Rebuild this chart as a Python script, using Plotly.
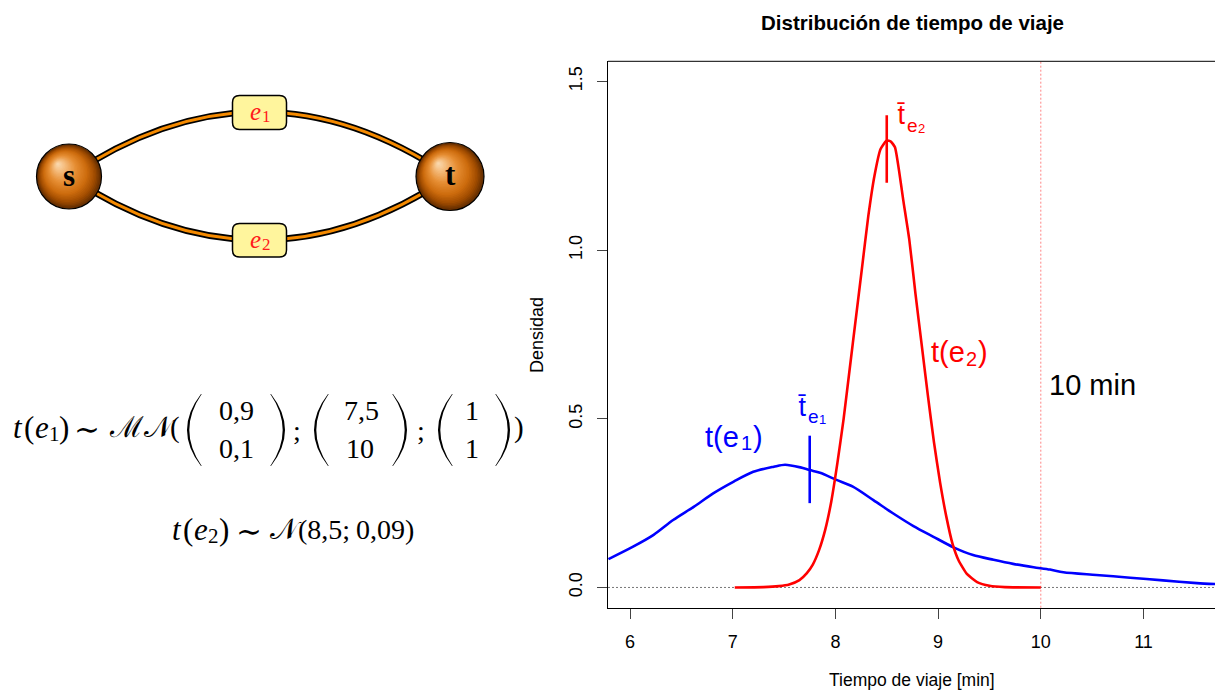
import plotly.graph_objects as go

# ---- travel-time densities (minutes vs density) ----
e1_x = [5.79, 6.03, 6.23, 6.42, 6.62, 6.81, 7.01, 7.20, 7.40, 7.51, 7.66, 7.75, 7.85,
        8.01, 8.17, 8.37, 8.56, 8.76, 8.95, 9.15, 9.34, 9.54, 9.73, 9.93, 10.09,
        10.22, 10.54, 10.87, 11.19, 11.52, 11.70]
e1_y = [0.084, 0.121, 0.156, 0.200, 0.239, 0.279, 0.314, 0.343, 0.358, 0.364, 0.356,
        0.348, 0.340, 0.319, 0.299, 0.259, 0.220, 0.182, 0.151, 0.119, 0.096, 0.082,
        0.070, 0.060, 0.053, 0.045, 0.037, 0.029, 0.021, 0.013, 0.010]

e2_x = [7.02, 7.30, 7.45, 7.55, 7.65, 7.72, 7.78, 7.84, 7.90, 7.96, 8.02, 8.08, 8.14,
        8.20, 8.26, 8.32, 8.38, 8.44, 8.50, 8.54, 8.58, 8.62, 8.66, 8.72, 8.78, 8.84,
        8.90, 8.96, 9.02, 9.08, 9.14, 9.20, 9.28, 9.38, 9.50, 9.65, 10.0]
e2_y = [0.0, 0.001, 0.004, 0.009, 0.022, 0.042, 0.068, 0.11, 0.17, 0.255, 0.37, 0.50,
        0.65, 0.80, 0.95, 1.10, 1.22, 1.30, 1.325, 1.322, 1.305, 1.235, 1.15, 1.03,
        0.87, 0.72, 0.57, 0.43, 0.31, 0.21, 0.13, 0.08, 0.04, 0.016, 0.005, 0.001, 0.0]

# mean travel time of each edge, with the extent of its marker
mean_e1 = 7.75
mean_e1_span = [0.25, 0.45]
mean_e2 = 8.5
mean_e2_span = [1.2, 1.4]
deadline = 10

x_ticks = [6, 7, 8, 9, 10, 11]
y_ticks = [0.0, 0.5, 1.0, 1.5]
y_ticklabels = ["0.0", "0.5", "1.0", "1.5"]

BLUE = "#0000ff"
RED = "#ff0000"
SANS = "Liberation Sans"
SERIF = "Liberation Serif"

fig = go.Figure()

fig.add_trace(go.Scatter(x=e1_x, y=e1_y, mode="lines",
                         line=dict(color=BLUE, width=2.6, shape="spline", smoothing=0.8),
                         hoverinfo="skip", showlegend=False))
fig.add_trace(go.Scatter(x=e2_x, y=e2_y, mode="lines",
                         line=dict(color=RED, width=2.6, shape="spline", smoothing=0.5),
                         hoverinfo="skip", showlegend=False))
fig.add_trace(go.Scatter(x=[mean_e1, mean_e1], y=mean_e1_span, mode="lines", line=dict(color=BLUE, width=2.6),
                         hoverinfo="skip", showlegend=False))
fig.add_trace(go.Scatter(x=[mean_e2, mean_e2], y=mean_e2_span, mode="lines", line=dict(color=RED, width=2.6),
                         hoverinfo="skip", showlegend=False))

# invisible trace that anchors the drawing canvas on the left
fig.add_trace(go.Scatter(x=[0], y=[0], xaxis="x2", yaxis="y2", mode="markers",
                         marker=dict(opacity=0), hoverinfo="skip", showlegend=False))

W, H = 1215, 694
left, top, bottom = 608, 61.3, 607.7

shapes = []
annotations = []

# box top edge, zero line and deadline marker
shapes.append(dict(type="line", xref="x domain", yref="y domain", x0=0, x1=1, y0=1, y1=1,
                   line=dict(color="black", width=1)))
shapes.append(dict(type="line", xref="x domain", yref="y", x0=0, x1=1, y0=0, y1=0,
                   line=dict(color="#777777", width=1, dash="2px,2px"), layer="below"))
shapes.append(dict(type="line", xref="x", yref="y domain", x0=deadline, x1=deadline, y0=0, y1=1,
                   line=dict(color="rgba(255,90,90,0.75)", width=1, dash="2px,2px"), layer="below"))

# ---- network drawing (canvas coordinates in pixels) ----
def cv(**kw):
    d = dict(xref="x2", yref="y2")
    d.update(kw)
    return d

s_c, s_r = (69, 176.5), 32.5
t_c, t_r = (450, 176.5), 34
edge_mid_top, edge_mid_bot = 112, 240
for my in (edge_mid_top, edge_mid_bot):
    cy = 2 * my - 176.5
    path = f"M{s_c[0]},{s_c[1]} Q259.5,{cy} {t_c[0]},{t_c[1]}"
    shapes.append(cv(type="path", path=path, line=dict(color="black", width=6.5)))
    shapes.append(cv(type="path", path=path, line=dict(color="#f58a00", width=3)))

stops = [(0.0, (105, 48, 0)), (0.12, (160, 76, 0)), (0.30, (205, 108, 14)),
         (0.55, (230, 142, 52)), (0.80, (245, 190, 128)), (1.0, (251, 226, 192))]

def shade(t):
    for (t0, c0), (t1, c1) in zip(stops[:-1], stops[1:]):
        if t <= t1:
            f = (t - t0) / (t1 - t0)
            return "rgb(%d,%d,%d)" % tuple(round(a + (b - a) * f) for a, b in zip(c0, c1))
    return "rgb(%d,%d,%d)" % stops[-1][1]

def sphere(c, r):
    cx, cy = c
    shapes.append(cv(type="circle", x0=cx - r, x1=cx + r, y0=cy - r, y1=cy + r,
                     fillcolor=shade(0), line=dict(color="black", width=1.2)))
    hx, hy = cx - 0.36 * r, cy - 0.40 * r
    n = 30
    for k in range(1, n):
        t = k / n
        ccx, ccy = cx + (hx - cx) * t, cy + (hy - cy) * t
        rr = r * (1 - t) - 0.8
        if rr <= 0:
            break
        shapes.append(cv(type="circle", x0=ccx - rr, x1=ccx + rr, y0=ccy - rr, y1=ccy + rr,
                         fillcolor=shade(t), line=dict(width=0)))

sphere(s_c, s_r)
sphere(t_c, t_r)

def rounded_rect(x0, y0, x1, y1, q):
    return (f"M{x0+q},{y0} L{x1-q},{y0} Q{x1},{y0} {x1},{y0+q} L{x1},{y1-q} Q{x1},{y1} {x1-q},{y1} "
            f"L{x0+q},{y1} Q{x0},{y1} {x0},{y1-q} L{x0},{y0+q} Q{x0},{y0} {x0+q},{y0} Z")

def canvas_text(x, y, text, size, family=SERIF, color="black", anchor="left"):
    annotations.append(cv(x=x, y=y, text=text, showarrow=False, xanchor=anchor, yanchor="middle",
                          font=dict(family=family, size=size, color=color)))

for (y0, y1), sub in (((95.5, 129.5), "1"), ((223.5, 257), "2")):
    shapes.append(cv(type="path", path=rounded_rect(232.5, y0, 286.5, y1, 7),
                     fillcolor="#fff59d", line=dict(color="black", width=1.5)))
    yc = (y0 + y1) / 2
    canvas_text(248, yc - 1, "<i>e</i>", 25, color="#ff1a1a")
    canvas_text(259.5, yc + 4, sub, 17, color="#ff1a1a")

canvas_text(s_c[0], s_c[1] - 1, "<b>s</b>", 31, anchor="center")
canvas_text(t_c[0], t_c[1] - 2, "<b>t</b>", 31, anchor="center")

# ---- distribution formulas ----
def paren(xl, xr, yt, yb, w, opening):
    ym = (yt + yb) / 2
    if opening:
        co = 2 * xl - xr
        ci = 2 * (xl + w) - (xr + 0.7)
        return f"M{xr},{yt} Q{co},{ym} {xr},{yb} L{xr+0.7},{yb} Q{ci},{ym} {xr+0.7},{yt} Z"
    co = 2 * xr - xl
    ci = 2 * (xr - w) - (xl - 0.7)
    return f"M{xl},{yt} Q{co},{ym} {xl},{yb} L{xl-0.7},{yb} Q{ci},{ym} {xl-0.7},{yt} Z"

for xl, xr, op in ((187, 201, True), (271, 285, False), (314, 328, True),
                   (393, 407, False), (438, 452, True), (496, 510, False)):
    shapes.append(cv(type="path", path=paren(xl, xr, 394, 466, 2.3, op),
                     fillcolor="black", line=dict(width=0)))

MF = 31
# t(e1) ~ MN( ... )
canvas_text(11, 427, "<i>t</i>", MF)
canvas_text(22, 427, "(", MF)
canvas_text(33, 427, "<i>e</i>", MF)
canvas_text(47, 434, "1", 21)
canvas_text(57, 427, ")", MF)
canvas_text(87, 429, "∼", 31, family="DejaVu Serif", anchor="center")
canvas_text(107, 427, "ℳ𝒩", 29)
canvas_text(168, 427, "(", 29)
canvas_text(236, 410.5, "0,9", 28, anchor="center")
canvas_text(236, 448.5, "0,1", 28, anchor="center")
canvas_text(361, 410.5, "7,5", 28, anchor="center")
canvas_text(360, 448.5, "10", 28, anchor="center")
canvas_text(472, 410.5, "1", 28, anchor="center")
canvas_text(472, 448.5, "1", 28, anchor="center")
canvas_text(297, 430, ";", 28, anchor="center")
canvas_text(421, 430, ";", 28, anchor="center")
canvas_text(512, 427, ")", 29)

# t(e2) ~ N(8,5; 0,09)
L2 = 529
canvas_text(170, L2, "<i>t</i>", MF)
canvas_text(181, L2, "(", MF)
canvas_text(192, L2, "<i>e</i>", MF)
canvas_text(206, L2 + 7, "2", 21)
canvas_text(217, L2, ")", MF)
canvas_text(249, L2 + 2, "∼", 31, family="DejaVu Serif", anchor="center")
canvas_text(268, L2, "𝒩", 29)
canvas_text(296, L2, "(8,5;", 28)
canvas_text(385, L2, "0,09)", 28, anchor="center")

# ---- plot texts ----
def px(x, y):
    return x / W, 1 - y / H

tx, ty = px(912, 22)
annotations.append(dict(xref="paper", yref="paper", x=tx, y=ty, xanchor="center", yanchor="middle",
                        text="<b>Distribución de tiempo de viaje</b>", showarrow=False,
                        font=dict(family=SANS, size=20.5, color="black")))
tx, ty = px(912, 680)
annotations.append(dict(xref="paper", yref="paper", x=tx, y=ty, xanchor="center", yanchor="middle",
                        text="Tiempo de viaje [min]", showarrow=False,
                        font=dict(family=SANS, size=17.5, color="black")))
tx, ty = px(537, 335)
annotations.append(dict(xref="paper", yref="paper", x=tx, y=ty, xanchor="center", yanchor="middle",
                        text="Densidad", textangle=-90, showarrow=False,
                        font=dict(family=SANS, size=18, color="black")))

def plot_text(x, y, text, size, color, dx, dy):
    # dx/dy are pixel offsets of the piece's left edge / centre from the data point (dy down)
    annotations.append(dict(xref="x", yref="y", x=x, y=y, text=text, showarrow=False,
                            xanchor="left", yanchor="middle", xshift=dx, yshift=-dy,
                            font=dict(family=SANS, size=size, color=color)))

# t(e1) label
plot_text(7.0, 0.45, "t(e", 29, BLUE, -30, 1)
plot_text(7.0, 0.45, "1", 20, BLUE, 6, 7.5)
plot_text(7.0, 0.45, ")", 29, BLUE, 18, 1)
# t(e2) label
plot_text(9.2, 0.70, "t(e", 29, RED, -30, 1)
plot_text(9.2, 0.70, "2", 20, RED, 5, 7.5)
plot_text(9.2, 0.70, ")", 29, RED, 17, 1)
# deadline label
annotations.append(dict(xref="x", yref="y", x=10.5, y=0.60, text="10 min", showarrow=False,
                        xanchor="center", yanchor="middle",
                        font=dict(family=SANS, size=29, color="black")))
# mean labels
plot_text(mean_e1, mean_e1_span[1], "t̄", 27, BLUE, -14, -29)
plot_text(mean_e1, mean_e1_span[1], "e", 19, BLUE, -4, -19)
plot_text(mean_e1, mean_e1_span[1], "1", 13, BLUE, 7, -16)
plot_text(mean_e2, mean_e2_span[1], "t̄", 27, RED, 8, 0)
plot_text(mean_e2, mean_e2_span[1], "e", 19, RED, 18, 10)
plot_text(mean_e2, mean_e2_span[1], "2", 13, RED, 29, 13)

x_lo = 6 - (630 - left) / 102.7
x_hi = 6 + (W - 630) / 102.7

fig.update_layout(
    width=W, height=H, margin=dict(l=0, r=0, t=0, b=0),
    paper_bgcolor="white", plot_bgcolor="rgba(0,0,0,0)",
    shapes=shapes, annotations=annotations, showlegend=False,
    xaxis=dict(domain=[left / W, 1], range=[x_lo, x_hi], tickmode="array", tickvals=x_ticks,
               ticks="outside", ticklen=10, tickwidth=1, tickcolor="#444444",
               showline=True, linecolor="black", linewidth=1, showgrid=False, zeroline=False,
               tickfont=dict(family=SANS, size=18, color="black"), ticklabelstandoff=8),
    yaxis=dict(domain=[1 - bottom / H, 1 - top / H], range=[-0.06, 1.56], tickmode="array",
               tickvals=y_ticks, ticktext=y_ticklabels, tickangle=-90,
               ticks="outside", ticklen=10, tickwidth=1, tickcolor="#444444",
               showline=True, linecolor="black", linewidth=1, showgrid=False, zeroline=False,
               tickfont=dict(family=SANS, size=18, color="black"), ticklabelstandoff=8),
    xaxis2=dict(domain=[0, 600 / W], range=[0, 600], visible=False, anchor="y2", fixedrange=True),
    yaxis2=dict(domain=[0, 1], range=[H, 0], visible=False, anchor="x2", fixedrange=True),
)

fig.write_html("out.html")
